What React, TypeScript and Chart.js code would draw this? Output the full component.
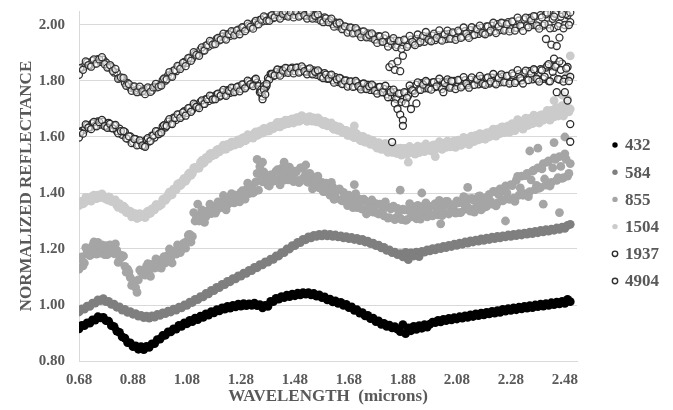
import React, { useEffect, useRef } from "react";
import { Chart, registerables } from "chart.js";

Chart.register(...registerables);

// Wavelength (microns), main samples every 0.01
const WAVELENGTH = [
  0.68, 0.69, 0.70, 0.71, 0.72, 0.73, 0.74, 0.75, 0.76, 0.77,
  0.78, 0.79, 0.80, 0.81, 0.82, 0.83, 0.84, 0.85, 0.86, 0.87,
  0.88, 0.89, 0.90, 0.91, 0.92, 0.93, 0.94, 0.95, 0.96, 0.97,
  0.98, 0.99, 1.00, 1.01, 1.02, 1.03, 1.04, 1.05, 1.06, 1.07,
  1.08, 1.09, 1.10, 1.11, 1.12, 1.13, 1.14, 1.15, 1.16, 1.17,
  1.18, 1.19, 1.20, 1.21, 1.22, 1.23, 1.24, 1.25, 1.26, 1.27,
  1.28, 1.29, 1.30, 1.31, 1.32, 1.33, 1.34, 1.35, 1.36, 1.37,
  1.38, 1.39, 1.40, 1.41, 1.42, 1.43, 1.44, 1.45, 1.46, 1.47,
  1.48, 1.49, 1.50, 1.51, 1.52, 1.53, 1.54, 1.55, 1.56, 1.57,
  1.58, 1.59, 1.60, 1.61, 1.62, 1.63, 1.64, 1.65, 1.66, 1.67,
  1.68, 1.69, 1.70, 1.71, 1.72, 1.73, 1.74, 1.75, 1.76, 1.77,
  1.78, 1.79, 1.80, 1.81, 1.82, 1.83, 1.84, 1.85, 1.86, 1.87,
  1.88, 1.89, 1.90, 1.91, 1.92, 1.93, 1.94, 1.95, 1.96, 1.97,
  1.98, 1.99, 2.00, 2.01, 2.02, 2.03, 2.04, 2.05, 2.06, 2.07,
  2.08, 2.09, 2.10, 2.11, 2.12, 2.13, 2.14, 2.15, 2.16, 2.17,
  2.18, 2.19, 2.20, 2.21, 2.22, 2.23, 2.24, 2.25, 2.26, 2.27,
  2.28, 2.29, 2.30, 2.31, 2.32, 2.33, 2.34, 2.35, 2.36, 2.37,
  2.38, 2.39, 2.40, 2.41, 2.42, 2.43, 2.44, 2.45, 2.46, 2.47,
  2.48, 2.49, 2.50,
];

// Intermediate samples (half-way between the main ones)
const WAVELENGTH_B = [
  0.685, 0.695, 0.705, 0.715, 0.725, 0.735, 0.745, 0.755, 0.765, 0.775,
  0.785, 0.795, 0.805, 0.815, 0.825, 0.835, 0.845, 0.855, 0.865, 0.875,
  0.885, 0.895, 0.905, 0.915, 0.925, 0.935, 0.945, 0.955, 0.965, 0.975,
  0.985, 0.995, 1.005, 1.015, 1.025, 1.035, 1.045, 1.055, 1.065, 1.075,
  1.085, 1.095, 1.105, 1.115, 1.125, 1.135, 1.145, 1.155, 1.165, 1.175,
  1.185, 1.195, 1.205, 1.215, 1.225, 1.235, 1.245, 1.255, 1.265, 1.275,
  1.285, 1.295, 1.305, 1.315, 1.325, 1.335, 1.345, 1.355, 1.365, 1.375,
  1.385, 1.395, 1.405, 1.415, 1.425, 1.435, 1.445, 1.455, 1.465, 1.475,
  1.485, 1.495, 1.505, 1.515, 1.525, 1.535, 1.545, 1.555, 1.565, 1.575,
  1.585, 1.595, 1.605, 1.615, 1.625, 1.635, 1.645, 1.655, 1.665, 1.675,
  1.685, 1.695, 1.705, 1.715, 1.725, 1.735, 1.745, 1.755, 1.765, 1.775,
  1.785, 1.795, 1.805, 1.815, 1.825, 1.835, 1.845, 1.855, 1.865, 1.875,
  1.885, 1.895, 1.905, 1.915, 1.925, 1.935, 1.945, 1.955, 1.965, 1.975,
  1.985, 1.995, 2.005, 2.015, 2.025, 2.035, 2.045, 2.055, 2.065, 2.075,
  2.085, 2.095, 2.105, 2.115, 2.125, 2.135, 2.145, 2.155, 2.165, 2.175,
  2.185, 2.195, 2.205, 2.215, 2.225, 2.235, 2.245, 2.255, 2.265, 2.275,
  2.285, 2.295, 2.305, 2.315, 2.325, 2.335, 2.345, 2.355, 2.365, 2.375,
  2.385, 2.395, 2.405, 2.415, 2.425, 2.435, 2.445, 2.455, 2.465, 2.475,
  2.485, 2.495,
];

const R432 = [
  0.915, 0.927, 0.926, 0.936, 0.935, 0.947, 0.946, 0.958, 0.954, 0.956,
  0.944, 0.942, 0.926, 0.923, 0.907, 0.902, 0.886, 0.882, 0.866, 0.865,
  0.851, 0.854, 0.842, 0.851, 0.841, 0.852, 0.849, 0.861, 0.862, 0.876,
  0.878, 0.891, 0.892, 0.904, 0.904, 0.915, 0.914, 0.927, 0.924, 0.936,
  0.933, 0.945, 0.941, 0.953, 0.948, 0.960, 0.956, 0.968, 0.964, 0.976,
  0.972, 0.983, 0.979, 0.990, 0.985, 0.995, 0.989, 0.999, 0.993, 1.003,
  0.996, 1.005, 0.998, 1.004, 0.999, 1.007, 0.998, 1.001, 0.990, 0.999,
  0.995, 1.013, 1.012, 1.024, 1.021, 1.030, 1.026, 1.035, 1.030, 1.039,
  1.033, 1.042, 1.036, 1.044, 1.039, 1.044, 1.036, 1.041, 1.032, 1.036,
  1.026, 1.029, 1.018, 1.021, 1.011, 1.015, 1.006, 1.009, 0.999, 1.002,
  0.991, 0.993, 0.981, 0.983, 0.971, 0.973, 0.961, 0.963, 0.951, 0.953,
  0.941, 0.943, 0.931, 0.934, 0.924, 0.928, 0.918, 0.923, 0.914, 0.905,
  0.930, 0.898, 0.918, 0.908, 0.924, 0.913, 0.926, 0.917, 0.930, 0.921,
  0.932, 0.939, 0.937, 0.945, 0.940, 0.949, 0.944, 0.952, 0.947, 0.955,
  0.950, 0.958, 0.953, 0.961, 0.956, 0.965, 0.959, 0.968, 0.962, 0.971,
  0.965, 0.974, 0.968, 0.977, 0.971, 0.980, 0.974, 0.984, 0.978, 0.987,
  0.981, 0.990, 0.983, 0.992, 0.986, 0.995, 0.989, 0.998, 0.991, 1.000,
  0.994, 1.003, 0.996, 1.005, 0.999, 1.008, 1.001, 1.010, 1.004, 1.013,
  1.006, 1.020, 1.012,
];

const R584 = [
  0.975, 0.986, 0.985, 0.996, 0.995, 1.007, 1.007, 1.018, 1.016, 1.023,
  1.012, 1.013, 1.002, 1.003, 0.992, 0.993, 0.982, 0.984, 0.974, 0.976,
  0.967, 0.969, 0.960, 0.963, 0.955, 0.960, 0.953, 0.961, 0.957, 0.966,
  0.963, 0.972, 0.969, 0.978, 0.975, 0.985, 0.982, 0.992, 0.990, 1.000,
  0.999, 1.010, 1.009, 1.020, 1.019, 1.030, 1.029, 1.041, 1.040, 1.052,
  1.051, 1.063, 1.062, 1.074, 1.073, 1.084, 1.083, 1.094, 1.093, 1.104,
  1.103, 1.114, 1.113, 1.124, 1.123, 1.134, 1.133, 1.144, 1.143, 1.154,
  1.153, 1.164, 1.163, 1.175, 1.175, 1.187, 1.187, 1.200, 1.200, 1.212,
  1.212, 1.224, 1.223, 1.234, 1.233, 1.243, 1.240, 1.249, 1.245, 1.252,
  1.247, 1.254, 1.247, 1.252, 1.245, 1.250, 1.243, 1.247, 1.240, 1.244,
  1.237, 1.241, 1.234, 1.238, 1.230, 1.234, 1.225, 1.228, 1.219, 1.221,
  1.212, 1.214, 1.204, 1.206, 1.195, 1.197, 1.187, 1.189, 1.180, 1.183,
  1.172, 1.188, 1.162, 1.186, 1.175, 1.189, 1.173, 1.191, 1.189, 1.197,
  1.193, 1.201, 1.197, 1.205, 1.201, 1.209, 1.205, 1.213, 1.209, 1.217,
  1.213, 1.221, 1.217, 1.225, 1.221, 1.229, 1.225, 1.232, 1.228, 1.236,
  1.231, 1.239, 1.234, 1.242, 1.237, 1.245, 1.240, 1.247, 1.243, 1.250,
  1.245, 1.252, 1.248, 1.255, 1.250, 1.257, 1.253, 1.260, 1.255, 1.263,
  1.258, 1.266, 1.261, 1.269, 1.264, 1.271, 1.267, 1.275, 1.270, 1.278,
  1.274, 1.284, 1.288,
];

const R855 = [
  1.128, 1.172, 1.150, 1.188, 1.176, 1.212, 1.198, 1.224, 1.185, 1.196,
  1.212, 1.192, 1.208, 1.183, 1.195, 1.162, 1.172, 1.138, 1.128, 1.098,
  1.078, 1.062, 1.090, 1.118, 1.112, 1.138, 1.122, 1.145, 1.132, 1.152,
  1.142, 1.165, 1.150, 1.178, 1.162, 1.188, 1.182, 1.205, 1.198, 1.222,
  1.228, 1.252, 1.245, 1.300, 1.318, 1.302, 1.330, 1.315, 1.338, 1.326,
  1.352, 1.338, 1.362, 1.348, 1.376, 1.358, 1.385, 1.366, 1.392, 1.378,
  1.402, 1.385, 1.412, 1.398, 1.425, 1.405, 1.470, 1.495, 1.440, 1.462,
  1.428, 1.465, 1.442, 1.478, 1.450, 1.488, 1.446, 1.472, 1.492, 1.455,
  1.478, 1.445, 1.490, 1.452, 1.470, 1.438, 1.462, 1.425, 1.455, 1.418,
  1.438, 1.405, 1.428, 1.392, 1.422, 1.385, 1.410, 1.375, 1.402, 1.370,
  1.392, 1.360, 1.385, 1.348, 1.378, 1.342, 1.372, 1.335, 1.365, 1.332,
  1.362, 1.325, 1.358, 1.318, 1.352, 1.312, 1.348, 1.305, 1.345, 1.310,
  1.342, 1.302, 1.338, 1.315, 1.350, 1.308, 1.345, 1.322, 1.355, 1.315,
  1.352, 1.318, 1.362, 1.322, 1.348, 1.330, 1.370, 1.325, 1.358, 1.338,
  1.372, 1.330, 1.365, 1.342, 1.380, 1.335, 1.375, 1.348, 1.388, 1.340,
  1.382, 1.352, 1.395, 1.360, 1.405, 1.365, 1.415, 1.372, 1.425, 1.380,
  1.430, 1.382, 1.445, 1.392, 1.460, 1.398, 1.470, 1.405, 1.478, 1.412,
  1.490, 1.420, 1.505, 1.428, 1.515, 1.438, 1.525, 1.445, 1.530, 1.452,
  1.540, 1.460, 1.505,
];

const R855_B = [
  1.165, 1.140, 1.205, 1.185, 1.180, 1.225, 1.182, 1.215, 1.215, 1.180,
  1.180, 1.215, 1.195, 1.218, 1.152, 1.178, 1.175, 1.117, 1.118, 1.070,
  1.085, 1.045, 1.125, 1.115, 1.107, 1.148, 1.102, 1.141, 1.165, 1.135,
  1.132, 1.173, 1.160, 1.200, 1.150, 1.193, 1.215, 1.187, 1.218, 1.203,
  1.250, 1.225, 1.330, 1.310, 1.300, 1.340, 1.295, 1.335, 1.360, 1.330,
  1.328, 1.368, 1.353, 1.391, 1.340, 1.381, 1.398, 1.365, 1.391, 1.368,
  1.408, 1.378, 1.435, 1.410, 1.400, 1.440, 1.410, 1.455, 1.475, 1.440,
  1.425, 1.465, 1.447, 1.483, 1.429, 1.468, 1.482, 1.447, 1.469, 1.441,
  1.475, 1.437, 1.490, 1.457, 1.440, 1.470, 1.415, 1.445, 1.460, 1.420,
  1.405, 1.435, 1.410, 1.438, 1.377, 1.408, 1.415, 1.372, 1.388, 1.355,
  1.388, 1.348, 1.398, 1.363, 1.345, 1.378, 1.325, 1.358, 1.375, 1.340,
  1.328, 1.360, 1.338, 1.368, 1.310, 1.343, 1.353, 1.312, 1.333, 1.305,
  1.340, 1.305, 1.362, 1.334, 1.320, 1.356, 1.307, 1.343, 1.365, 1.330,
  1.321, 1.357, 1.339, 1.374, 1.319, 1.356, 1.370, 1.333, 1.355, 1.328,
  1.365, 1.331, 1.387, 1.358, 1.345, 1.381, 1.332, 1.368, 1.390, 1.357,
  1.350, 1.387, 1.370, 1.406, 1.354, 1.394, 1.410, 1.376, 1.401, 1.377,
  1.426, 1.370, 1.459, 1.418, 1.392, 1.462, 1.387, 1.447, 1.482, 1.427,
  1.417, 1.486, 1.450, 1.510, 1.425, 1.490, 1.520, 1.455, 1.495, 1.455,
  1.520, 1.470,
];

const R1504 = [
  1.355, 1.370, 1.366, 1.382, 1.375, 1.389, 1.380, 1.392, 1.384, 1.390,
  1.380, 1.386, 1.370, 1.374, 1.356, 1.362, 1.342, 1.348, 1.330, 1.334,
  1.318, 1.325, 1.312, 1.320, 1.316, 1.330, 1.326, 1.343, 1.340, 1.358,
  1.357, 1.376, 1.374, 1.394, 1.392, 1.414, 1.412, 1.434, 1.432, 1.452,
  1.451, 1.472, 1.470, 1.491, 1.489, 1.509, 1.506, 1.526, 1.522, 1.541,
  1.536, 1.553, 1.547, 1.564, 1.557, 1.574, 1.566, 1.582, 1.574, 1.590,
  1.582, 1.598, 1.590, 1.606, 1.598, 1.614, 1.606, 1.622, 1.614, 1.630,
  1.622, 1.638, 1.630, 1.646, 1.637, 1.653, 1.644, 1.659, 1.650, 1.665,
  1.655, 1.669, 1.659, 1.672, 1.660, 1.671, 1.658, 1.668, 1.654, 1.663,
  1.648, 1.656, 1.640, 1.648, 1.632, 1.640, 1.624, 1.632, 1.616, 1.624,
  1.606, 1.618, 1.598, 1.610, 1.590, 1.602, 1.582, 1.594, 1.574, 1.586,
  1.566, 1.580, 1.556, 1.571, 1.550, 1.565, 1.545, 1.561, 1.542, 1.560,
  1.540, 1.558, 1.542, 1.560, 1.543, 1.562, 1.544, 1.565, 1.548, 1.566,
  1.552, 1.570, 1.556, 1.574, 1.560, 1.578, 1.563, 1.582, 1.566, 1.585,
  1.570, 1.588, 1.574, 1.594, 1.578, 1.600, 1.584, 1.606, 1.590, 1.610,
  1.595, 1.615, 1.600, 1.622, 1.606, 1.628, 1.612, 1.636, 1.618, 1.640,
  1.625, 1.645, 1.630, 1.652, 1.636, 1.660, 1.642, 1.666, 1.648, 1.672,
  1.655, 1.678, 1.660, 1.685, 1.665, 1.695, 1.672, 1.705, 1.678, 1.712,
  1.690, 1.735, 1.700,
];

const R1504_B = [
  1.369, 1.361, 1.384, 1.376, 1.371, 1.392, 1.380, 1.391, 1.397, 1.381,
  1.375, 1.383, 1.369, 1.375, 1.349, 1.354, 1.353, 1.331, 1.336, 1.315,
  1.326, 1.309, 1.326, 1.316, 1.312, 1.335, 1.328, 1.344, 1.358, 1.352,
  1.358, 1.380, 1.381, 1.403, 1.394, 1.415, 1.431, 1.426, 1.446, 1.442,
  1.467, 1.463, 1.490, 1.488, 1.489, 1.516, 1.510, 1.527, 1.540, 1.533,
  1.537, 1.556, 1.553, 1.571, 1.557, 1.572, 1.582, 1.571, 1.586, 1.576,
  1.596, 1.586, 1.608, 1.600, 1.596, 1.618, 1.608, 1.621, 1.631, 1.621,
  1.622, 1.639, 1.635, 1.652, 1.636, 1.651, 1.660, 1.648, 1.662, 1.650,
  1.668, 1.656, 1.676, 1.664, 1.656, 1.673, 1.657, 1.664, 1.668, 1.651,
  1.644, 1.653, 1.641, 1.650, 1.627, 1.634, 1.636, 1.617, 1.624, 1.606,
  1.618, 1.600, 1.614, 1.598, 1.586, 1.600, 1.582, 1.587, 1.589, 1.571,
  1.560, 1.576, 1.560, 1.577, 1.545, 1.559, 1.566, 1.542, 1.557, 1.535,
  1.559, 1.538, 1.566, 1.549, 1.539, 1.567, 1.548, 1.563, 1.575, 1.556,
  1.550, 1.572, 1.561, 1.583, 1.556, 1.575, 1.585, 1.565, 1.583, 1.563,
  1.589, 1.570, 1.599, 1.583, 1.573, 1.603, 1.584, 1.600, 1.612, 1.594,
  1.592, 1.615, 1.605, 1.628, 1.603, 1.623, 1.635, 1.616, 1.635, 1.617,
  1.648, 1.623, 1.662, 1.641, 1.628, 1.667, 1.642, 1.663, 1.678, 1.653,
  1.650, 1.679, 1.666, 1.695, 1.660, 1.685, 1.701, 1.675, 1.700, 1.675,
  1.710, 1.690,
];

const R1937 = [
  1.598, 1.622, 1.626, 1.642, 1.634, 1.649, 1.640, 1.656, 1.644, 1.655,
  1.640, 1.650, 1.632, 1.641, 1.621, 1.630, 1.608, 1.618, 1.594, 1.602,
  1.582, 1.592, 1.572, 1.580, 1.568, 1.590, 1.584, 1.605, 1.598, 1.620,
  1.615, 1.638, 1.634, 1.655, 1.648, 1.669, 1.661, 1.680, 1.674, 1.692,
  1.686, 1.704, 1.697, 1.715, 1.708, 1.725, 1.718, 1.735, 1.728, 1.745,
  1.737, 1.752, 1.744, 1.760, 1.751, 1.767, 1.758, 1.774, 1.765, 1.781,
  1.772, 1.788, 1.780, 1.797, 1.788, 1.803, 1.794, 1.760, 1.745, 1.775,
  1.810, 1.825, 1.818, 1.832, 1.825, 1.840, 1.830, 1.845, 1.834, 1.848,
  1.835, 1.848, 1.835, 1.845, 1.832, 1.842, 1.828, 1.838, 1.822, 1.832,
  1.815, 1.828, 1.808, 1.820, 1.802, 1.814, 1.796, 1.808, 1.790, 1.802,
  1.786, 1.798, 1.781, 1.793, 1.777, 1.790, 1.773, 1.786, 1.768, 1.782,
  1.765, 1.778, 1.760, 1.772, 1.752, 1.768, 1.742, 1.760, 1.735, 1.755,
  1.735, 1.758, 1.748, 1.772, 1.765, 1.786, 1.770, 1.792, 1.774, 1.795,
  1.776, 1.795, 1.778, 1.797, 1.779, 1.798, 1.780, 1.799, 1.781, 1.800,
  1.782, 1.801, 1.783, 1.803, 1.785, 1.805, 1.786, 1.806, 1.788, 1.808,
  1.789, 1.810, 1.791, 1.812, 1.793, 1.814, 1.795, 1.816, 1.797, 1.818,
  1.798, 1.820, 1.800, 1.825, 1.802, 1.830, 1.804, 1.835, 1.806, 1.838,
  1.805, 1.842, 1.808, 1.848, 1.800, 1.852, 1.812, 1.858, 1.805, 1.862,
  1.808, 1.850, 1.815,
];

const R1937_B = [
  1.616, 1.612, 1.645, 1.634, 1.628, 1.654, 1.638, 1.653, 1.661, 1.639,
  1.633, 1.647, 1.631, 1.643, 1.613, 1.621, 1.621, 1.595, 1.602, 1.578,
  1.593, 1.570, 1.588, 1.570, 1.565, 1.596, 1.586, 1.605, 1.621, 1.610,
  1.616, 1.642, 1.640, 1.664, 1.646, 1.668, 1.681, 1.668, 1.688, 1.676,
  1.703, 1.690, 1.719, 1.708, 1.703, 1.731, 1.718, 1.735, 1.748, 1.734,
  1.735, 1.755, 1.748, 1.768, 1.747, 1.765, 1.776, 1.760, 1.778, 1.763,
  1.788, 1.774, 1.801, 1.789, 1.782, 1.808, 1.782, 1.769, 1.782, 1.783,
  1.805, 1.825, 1.820, 1.841, 1.819, 1.837, 1.847, 1.829, 1.844, 1.827,
  1.848, 1.830, 1.852, 1.835, 1.824, 1.845, 1.824, 1.833, 1.838, 1.816,
  1.810, 1.823, 1.809, 1.823, 1.794, 1.806, 1.811, 1.789, 1.801, 1.780,
  1.799, 1.779, 1.800, 1.782, 1.770, 1.791, 1.771, 1.781, 1.787, 1.766,
  1.755, 1.779, 1.760, 1.783, 1.742, 1.760, 1.769, 1.736, 1.755, 1.725,
  1.760, 1.740, 1.784, 1.767, 1.756, 1.795, 1.768, 1.787, 1.800, 1.773,
  1.769, 1.796, 1.781, 1.808, 1.771, 1.793, 1.806, 1.776, 1.799, 1.771,
  1.804, 1.777, 1.814, 1.791, 1.776, 1.813, 1.786, 1.805, 1.818, 1.791,
  1.786, 1.813, 1.798, 1.825, 1.788, 1.811, 1.824, 1.795, 1.818, 1.791,
  1.827, 1.793, 1.839, 1.810, 1.791, 1.837, 1.803, 1.827, 1.842, 1.809,
  1.798, 1.838, 1.815, 1.855, 1.799, 1.833, 1.851, 1.807, 1.840, 1.798,
  1.845, 1.800,
];

const R4904 = [
  1.822, 1.848, 1.852, 1.866, 1.856, 1.872, 1.862, 1.878, 1.868, 1.876,
  1.866, 1.850, 1.850, 1.830, 1.830, 1.810, 1.810, 1.792, 1.793, 1.776,
  1.780, 1.766, 1.773, 1.762, 1.771, 1.762, 1.773, 1.766, 1.780, 1.777,
  1.785, 1.803, 1.801, 1.820, 1.818, 1.837, 1.835, 1.853, 1.851, 1.868,
  1.865, 1.883, 1.881, 1.898, 1.895, 1.912, 1.909, 1.926, 1.923, 1.939,
  1.935, 1.950, 1.945, 1.959, 1.953, 1.967, 1.961, 1.975, 1.969, 1.983,
  1.977, 1.991, 1.985, 1.999, 1.993, 2.008, 2.003, 2.018, 2.013, 2.026,
  2.019, 2.032, 2.025, 2.037, 2.030, 2.041, 2.033, 2.044, 2.035, 2.045,
  2.036, 2.045, 2.035, 2.043, 2.032, 2.040, 2.028, 2.035, 2.023, 2.030,
  2.017, 2.027, 2.011, 2.017, 2.003, 2.009, 1.995, 2.001, 1.987, 1.993,
  1.980, 1.990, 1.973, 1.982, 1.967, 1.976, 1.961, 1.970, 1.955, 1.964,
  1.948, 1.960, 1.942, 1.952, 1.936, 1.947, 1.930, 1.944, 1.928, 1.942,
  1.928, 1.945, 1.930, 1.948, 1.933, 1.950, 1.936, 1.954, 1.940, 1.958,
  1.945, 1.962, 1.946, 1.964, 1.948, 1.966, 1.950, 1.968, 1.952, 1.970,
  1.956, 1.975, 1.958, 1.978, 1.960, 1.982, 1.964, 1.986, 1.968, 1.990,
  1.970, 1.995, 1.974, 1.998, 1.978, 2.003, 1.982, 2.007, 1.985, 2.010,
  1.985, 2.012, 1.990, 2.016, 1.995, 2.020, 1.998, 2.025, 2.000, 2.030,
  1.995, 2.035, 1.998, 2.038, 2.002, 2.042, 1.990, 2.040, 2.005, 2.045,
  2.000, 2.035, 2.010,
];

const R4904_B = [
  1.846, 1.840, 1.870, 1.857, 1.851, 1.877, 1.862, 1.877, 1.885, 1.860,
  1.848, 1.857, 1.836, 1.843, 1.808, 1.813, 1.811, 1.783, 1.789, 1.765,
  1.781, 1.760, 1.780, 1.763, 1.753, 1.777, 1.761, 1.777, 1.790, 1.779,
  1.784, 1.809, 1.806, 1.832, 1.815, 1.839, 1.854, 1.843, 1.865, 1.853,
  1.882, 1.872, 1.903, 1.893, 1.890, 1.920, 1.909, 1.928, 1.943, 1.930,
  1.932, 1.954, 1.948, 1.969, 1.948, 1.967, 1.978, 1.963, 1.981, 1.967,
  1.992, 1.978, 2.005, 1.993, 1.987, 2.015, 2.002, 2.019, 2.031, 2.015,
  2.015, 2.035, 2.027, 2.046, 2.023, 2.040, 2.048, 2.030, 2.045, 2.027,
  2.049, 2.030, 2.052, 2.035, 2.023, 2.044, 2.023, 2.033, 2.038, 2.016,
  2.010, 2.024, 2.010, 2.023, 1.994, 2.005, 2.008, 1.985, 1.995, 1.973,
  1.991, 1.970, 1.989, 1.970, 1.957, 1.977, 1.956, 1.965, 1.970, 1.948,
  1.936, 1.959, 1.940, 1.963, 1.923, 1.943, 1.953, 1.921, 1.943, 1.915,
  1.948, 1.922, 1.961, 1.940, 1.928, 1.966, 1.941, 1.961, 1.975, 1.948,
  1.942, 1.969, 1.954, 1.981, 1.944, 1.967, 1.980, 1.951, 1.974, 1.947,
  1.980, 1.954, 1.991, 1.969, 1.954, 1.992, 1.965, 1.985, 1.998, 1.972,
  1.967, 1.995, 1.980, 2.008, 1.971, 1.995, 2.008, 1.980, 2.003, 1.977,
  2.013, 1.980, 2.026, 1.998, 1.979, 2.026, 1.992, 2.017, 2.032, 1.999,
  1.987, 2.027, 2.004, 2.044, 1.988, 2.022, 2.040, 1.996, 2.030, 1.988,
  2.040, 2.000,
];

// Scattered points lying off the main bands
const OUT855_X = [1.12, 1.34, 1.36, 1.44, 1.52, 1.70, 1.87, 1.95, 2.02, 2.12, 2.26, 2.35, 2.38, 2.40, 2.44, 2.46, 2.48];
const OUT855_Y = [1.36, 1.52, 1.51, 1.51, 1.50, 1.43, 1.41, 1.40, 1.29, 1.42, 1.30, 1.55, 1.56, 1.36, 1.58, 1.33, 1.60];
const OUT1504_X = [1.70, 1.90, 2.00, 2.44, 2.47, 2.49, 2.50];
const OUT1504_Y = [1.64, 1.51, 1.53, 1.73, 1.75, 1.82, 1.89];
const OUT1937_X = [1.355, 1.36, 1.365, 1.37, 1.375, 1.85, 1.84, 1.86, 1.87, 1.88, 1.88, 1.89, 1.91, 1.93, 2.03, 2.06, 2.42, 2.44, 2.45, 2.46, 2.48, 2.49, 2.50, 2.50];
const OUT1937_Y = [1.76, 1.735, 1.77, 1.752, 1.79, 1.72, 1.582, 1.70, 1.68, 1.66, 1.64, 1.72, 1.70, 1.72, 1.76, 1.80, 1.86, 1.88, 1.76, 1.87, 1.76, 1.73, 1.646, 1.583];
const OUT4904_X = [1.83, 1.84, 1.85, 1.86, 1.87, 1.88, 2.41, 2.43, 2.44, 2.45, 2.46, 2.47, 2.50];
const OUT4904_Y = [1.85, 1.86, 1.84, 1.87, 1.835, 1.89, 1.95, 1.93, 2.03, 1.925, 1.955, 2.04, 2.045];

const SERIES_LABELS = ["432", "584", "855", "1504", "1937", "4904"];
const SERIES_FILL = ["#000000", "#7f7f7f", "#a5a5a5", "#cbcbcb", "rgba(255,255,255,0.55)", "rgba(255,255,255,0.55)"];
const SERIES_EDGE = ["#000000", "#7f7f7f", "#a5a5a5", "#cbcbcb", "#2a2a2a", "#333333"];

const X_TICKS = [0.68, 0.88, 1.08, 1.28, 1.48, 1.68, 1.88, 2.08, 2.28, 2.48];
const Y_TICKS = [0.8, 1.0, 1.2, 1.4, 1.6, 1.8, 2.0];

const FONT_FAMILY = '"Liberation Serif", "Times New Roman", serif';
const TEXT_COLOR = "#595959";
const GRID_COLOR = "#d9d9d9";

function pairs(xs: number[], ys: number[]) {
  return xs.map((x, i) => ({ x, y: ys[i] }));
}

const sideLegend = {
  id: "sideLegend",
  afterDraw(chart: any) {
    const ctx = chart.ctx as CanvasRenderingContext2D;
    ctx.save();
    ctx.font = `bold 17px ${FONT_FAMILY}`;
    ctx.textBaseline = "middle";
    ctx.textAlign = "left";
    chart.data.datasets.forEach((ds: any, i: number) => {
      const y = 145 + i * 27.2;
      ctx.beginPath();
      ctx.arc(615, y, 2.7, 0, Math.PI * 2);
      if (i >= 4) {
        ctx.fillStyle = "#ffffff";
        ctx.fill();
        ctx.lineWidth = 1.4;
        ctx.strokeStyle = SERIES_EDGE[i];
        ctx.stroke();
      } else {
        ctx.fillStyle = SERIES_EDGE[i];
        ctx.fill();
      }
      ctx.fillStyle = TEXT_COLOR;
      ctx.fillText(ds.label, 625, y + 1);
    });
    ctx.restore();
  },
};

export default function App() {
  const canvasRef = useRef<HTMLCanvasElement | null>(null);

  useEffect(() => {
    if (!canvasRef.current) return;
    const seriesData = [
      pairs(WAVELENGTH, R432),
      pairs(WAVELENGTH, R584),
      pairs(WAVELENGTH, R855).concat(pairs(WAVELENGTH_B, R855_B), pairs(OUT855_X, OUT855_Y)),
      pairs(WAVELENGTH, R1504).concat(pairs(WAVELENGTH_B, R1504_B), pairs(OUT1504_X, OUT1504_Y)),
      pairs(WAVELENGTH, R1937).concat(pairs(WAVELENGTH_B, R1937_B), pairs(OUT1937_X, OUT1937_Y)),
      pairs(WAVELENGTH, R4904).concat(pairs(WAVELENGTH_B, R4904_B), pairs(OUT4904_X, OUT4904_Y)),
    ];
    const datasets = SERIES_LABELS.map((label, i) => ({
      label,
      data: seriesData[i],
      showLine: false,
      pointStyle: "circle",
      pointRadius: i >= 4 ? 3.5 : 4.4,
      pointBorderWidth: i >= 4 ? 1.3 : 0,
      pointBackgroundColor: SERIES_FILL[i],
      pointBorderColor: SERIES_EDGE[i],
      backgroundColor: SERIES_FILL[i],
      borderColor: SERIES_EDGE[i],
      order: 6 - i,
    }));

    const chart = new Chart(canvasRef.current, {
      type: "scatter",
      data: { datasets },
      plugins: [sideLegend],
      options: {
        animation: false,
        responsive: false,
        devicePixelRatio: 1,
        layout: { padding: { left: 0, right: 96, top: 11, bottom: 0 } },
        plugins: {
          legend: { display: false },
          tooltip: { enabled: false },
        },
        scales: {
          x: {
            type: "linear",
            min: 0.68,
            max: 2.525,
            afterBuildTicks: (scale: any) => {
              scale.ticks = X_TICKS.map((v) => ({ value: v }));
            },
            afterFit: (scale: any) => {
              scale.height = 49;
            },
            grid: { display: false, drawTicks: false },
            border: { display: true, color: GRID_COLOR, width: 1 },
            ticks: {
              padding: 10,
              color: TEXT_COLOR,
              font: { family: FONT_FAMILY, size: 15, weight: "bold" },
              maxRotation: 0,
              autoSkip: false,
              callback: (v: any) => Number(v).toFixed(2),
            },
            title: {
              display: true,
              text: "WAVELENGTH  (microns)",
              color: TEXT_COLOR,
              font: { family: FONT_FAMILY, size: 17, weight: "bold" },
              padding: { top: 0, bottom: 3 },
            },
          },
          y: {
            type: "linear",
            min: 0.8,
            max: 2.05,
            afterBuildTicks: (scale: any) => {
              scale.ticks = Y_TICKS.map((v) => ({ value: v }));
            },
            afterFit: (scale: any) => {
              scale.width = 79;
              scale.paddingTop = 0;
              scale.paddingBottom = 0;
            },
            grid: { display: true, color: GRID_COLOR, lineWidth: 1, drawTicks: false },
            border: { display: true, color: GRID_COLOR, width: 1 },
            ticks: {
              padding: 14,
              color: TEXT_COLOR,
              font: { family: FONT_FAMILY, size: 15, weight: "bold" },
              autoSkip: false,
              callback: (v: any) => Number(v).toFixed(2),
            },
            title: {
              display: true,
              text: "NORMALIZED REFLECTANCE",
              color: TEXT_COLOR,
              font: { family: FONT_FAMILY, size: 17, weight: "bold" },
              padding: { top: 16, bottom: 0 },
            },
          },
        },
      },
    } as any);

    return () => {
      chart.destroy();
    };
  }, []);

  return (
    <div style={{ position: "absolute", left: 0, top: 0, width: 673, height: 410, background: "#ffffff" }}>
      <canvas ref={canvasRef} width={673} height={410} style={{ display: "block", width: 673, height: 410 }} />
    </div>
  );
}
